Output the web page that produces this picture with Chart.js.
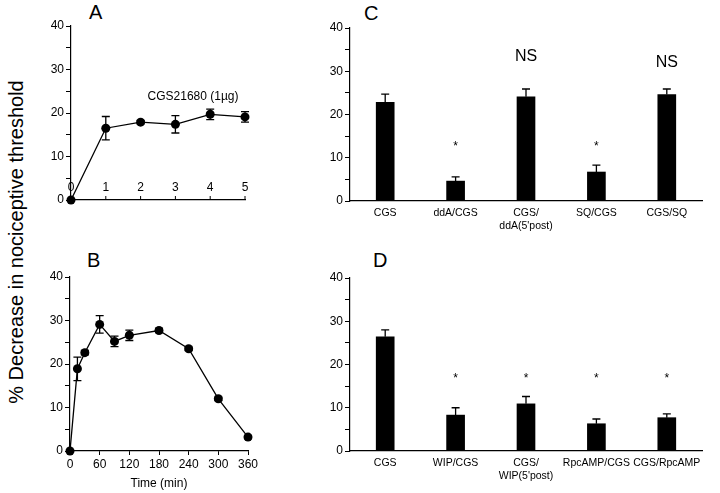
<!DOCTYPE html>
<html>
<head>
<meta charset="utf-8">
<script src="https://cdn.jsdelivr.net/npm/chart.js@4.4.0/dist/chart.umd.min.js"></script>
<style>
body { margin:0; width:720px; height:493px; background:#fff; overflow:hidden; position:relative; font-family:"Liberation Sans", Arial, sans-serif; color:#000; }
canvas.panel { position:absolute; }
.letter { position:absolute; font-size:20px; line-height:1; }
.ylabel { position:absolute; left:16px; top:242px; transform:translate(-50%,-50%) rotate(-90deg); font-size:20px; white-space:nowrap; }
</style>
</head>
<body>
<div class="ylabel">% Decrease in nociceptive threshold</div>
<div class="letter" style="left:89px;top:2px">A</div>
<div class="letter" style="left:87px;top:250px">B</div>
<div class="letter" style="left:364px;top:3px">C</div>
<div class="letter" style="left:373px;top:250px">D</div>
<canvas id="chartA" class="panel" style="left:35px;top:20px;width:220px;height:190px" width="220" height="190"></canvas>
<canvas id="chartB" class="panel" style="left:34px;top:271px;width:224px;height:220px" width="224" height="220"></canvas>
<canvas id="chartC" class="panel" style="left:314px;top:20px;width:392px;height:216px" width="392" height="216"></canvas>
<canvas id="chartD" class="panel" style="left:314px;top:270px;width:392px;height:216px" width="392" height="216"></canvas>
<script>
// panel A: time course after CGS21680 (1ug)
const timeA = [0, 1, 2, 3, 4, 5];
const valA = [0, 16.5, 17.9, 17.4, 19.7, 19.1];
const errA = [0, 2.7, 0.4, 2.0, 1.2, 1.2];

// panel B: time course, minutes
const timeB = [0, 15, 30, 60, 90, 120, 180, 240, 300, 360];
const valB = [0, 18.9, 22.6, 29.1, 25.2, 26.6, 27.7, 23.5, 12.0, 3.2];
const errB = [0, 2.7, 0.5, 2.0, 1.2, 1.2, 0.5, 0.4, 0.4, 0.4];

// panel C
const catC = ['CGS', 'ddA/CGS', ['CGS/', "ddA(5'post)"], 'SQ/CGS', 'CGS/SQ'];
const valC = [22.8, 4.6, 24.1, 6.7, 24.6];
const errC = [1.9, 1.0, 1.8, 1.6, 1.3];
const sigC = ['', '*', 'NS', '*', 'NS'];

// panel D
const catD = ['CGS', 'WIP/CGS', ['CGS/', "WIP(5'post)"], 'RpcAMP/CGS', 'CGS/RpcAMP'];
const valD = [26.4, 8.3, 10.9, 6.3, 7.7];
const errD = [1.6, 1.7, 1.7, 1.1, 0.9];
const sigD = ['', '*', '*', '*', '*'];

Chart.defaults.font.family = '"Liberation Sans", Arial, sans-serif';
Chart.defaults.font.size = 12;
Chart.defaults.color = '#000';
Chart.defaults.animation = false;

// error bars drawn from the arrays through the y scale
const errorBars = {
	id: 'errorBars',
	afterDatasetsDraw(chart, args, opts) {
		if (!opts.errors) return;
		const ctx = chart.ctx;
		const ys = chart.scales.y;
		const meta = chart.getDatasetMeta(0);
		const vals = opts.values;
		ctx.save();
		ctx.strokeStyle = '#000';
		ctx.lineWidth = 1.3;
		meta.data.forEach((el, i) => {
			const e = opts.errors[i];
			if (!e) return;
			const top = ys.getPixelForValue(vals[i] + e);
			const bot = opts.upperOnly ? el.y : ys.getPixelForValue(vals[i] - e);
			const w = opts.cap / 2;
			ctx.beginPath();
			ctx.moveTo(el.x, top); ctx.lineTo(el.x, bot);
			ctx.moveTo(el.x - w, top); ctx.lineTo(el.x + w, top);
			if (!opts.upperOnly) { ctx.moveTo(el.x - w, bot); ctx.lineTo(el.x + w, bot); }
			ctx.stroke();
		});
		ctx.restore();
	}
};

// text marks (asterisks, NS, series note) placed in data units
const marks = {
	id: 'marks',
	afterDatasetsDraw(chart, args, opts) {
		if (!opts.items) return;
		const ctx = chart.ctx;
		const xs = chart.scales.x, ys = chart.scales.y;
		const meta = chart.getDatasetMeta(0);
		ctx.save();
		ctx.fillStyle = '#000';
		ctx.textBaseline = 'middle';
		opts.items.forEach(m => {
			if (!m.text) return;
			ctx.font = m.size + 'px "Liberation Sans", Arial, sans-serif';
			ctx.textAlign = m.align || 'center';
			const x = m.index !== undefined ? meta.data[m.index].x : xs.getPixelForValue(m.x);
			ctx.fillText(m.text, x, ys.getPixelForValue(m.y));
		});
		ctx.restore();
	}
};

// panel A has its x ticks and labels inside the plot, above the axis line
const innerTicks = {
	id: 'innerTicks',
	afterDraw(chart, args, opts) {
		if (!opts.show) return;
		const ctx = chart.ctx;
		const xs = chart.scales.x;
		ctx.save();
		ctx.strokeStyle = '#000';
		ctx.lineWidth = 1;
		ctx.fillStyle = '#000';
		ctx.font = '12px "Liberation Sans", Arial, sans-serif';
		ctx.textAlign = 'center';
		ctx.textBaseline = 'middle';
		xs.ticks.forEach(t => {
			const px = xs.getPixelForValue(t.value);
			ctx.beginPath();
			ctx.moveTo(px, xs.top); ctx.lineTo(px, xs.top - 4);
			ctx.stroke();
			ctx.fillText(String(t.value), px, xs.top - 12);
		});
		ctx.restore();
	}
};
Chart.register(errorBars, marks, innerTicks);

function yAxis() {
	return {
		min: 0, max: 40,
		ticks: { stepSize: 5, autoSkip: false, padding: 2, font: { size: 12 }, callback: v => v % 10 === 0 ? v : '' },
		grid: { drawOnChartArea: false, tickLength: 5, color: '#000', lineWidth: 1 },
		border: { color: '#000', width: 1.2 },
		afterFit: s => { s.width = 36; s.paddingTop = 0; s.paddingBottom = 0; }
	};
}

function lineDataset(xs, ys) {
	return {
		data: xs.map((x, i) => ({ x: x, y: ys[i] })),
		borderColor: '#000',
		borderWidth: 1.3,
		pointRadius: 4.5,
		pointBackgroundColor: '#000',
		pointBorderWidth: 0,
		tension: 0,
		clip: false
	};
}

new Chart(document.getElementById('chartA'), {
	type: 'line',
	data: { datasets: [lineDataset(timeA, valA)] },
	options: {
		responsive: false,
		layout: { padding: { left: 0, top: 6, right: 10, bottom: 0 } },
		scales: {
			x: {
				type: 'linear', min: 0, max: 5,
				ticks: { stepSize: 1, display: false },
				grid: { drawOnChartArea: false, drawTicks: false },
				border: { color: '#000', width: 1.2 },
				afterFit: s => { s.height = 10; s.paddingLeft = 0; s.paddingRight = 0; }
			},
			y: yAxis()
		},
		plugins: {
			legend: { display: false }, tooltip: { enabled: false },
			errorBars: { values: valA, errors: errA, cap: 8 },
			innerTicks: { show: true },
			marks: { items: [{ text: 'CGS21680 (1\u00b5g)', x: 2.2, y: 23.7, size: 12, align: 'left' }] }
		}
	}
});

new Chart(document.getElementById('chartB'), {
	type: 'line',
	data: { datasets: [lineDataset(timeB, valB)] },
	options: {
		responsive: false,
		layout: { padding: { left: 0, top: 6, right: 10, bottom: 0 } },
		scales: {
			x: {
				type: 'linear', min: 0, max: 360,
				ticks: { stepSize: 60, padding: 2, font: { size: 12 } },
				grid: { drawOnChartArea: false, tickLength: 4, color: '#000' },
				border: { color: '#000', width: 1.2 },
				title: { display: true, text: 'Time (min)', font: { size: 12 }, padding: 0 },
				afterFit: s => { s.height = 40; s.paddingLeft = 0; s.paddingRight = 0; }
			},
			y: yAxis()
		},
		plugins: {
			legend: { display: false }, tooltip: { enabled: false },
			errorBars: { values: valB, errors: errB, cap: 8 }
		}
	}
});

function barChart(id, cats, vals, errs, sigs, sigY) {
	new Chart(document.getElementById(id), {
		type: 'bar',
		data: { labels: cats, datasets: [{ data: vals, backgroundColor: '#000', barThickness: 18 }] },
		options: {
			responsive: false,
			layout: { padding: { left: 0, top: 8, right: 4, bottom: 0 } },
			scales: {
				x: {
					ticks: { padding: 6, font: { size: 10.5 }, autoSkip: false, maxRotation: 0, minRotation: 0 },
					grid: { drawOnChartArea: false, drawTicks: false },
					border: { color: '#000', width: 1.2 },
					afterFit: s => { s.height = 35; s.paddingLeft = 0; s.paddingRight = 0; }
				},
				y: yAxis()
			},
			plugins: {
				legend: { display: false }, tooltip: { enabled: false },
				errorBars: { values: vals, errors: errs, cap: 8, upperOnly: true },
				marks: { items: sigs.map((t, i) => ({ text: t, index: i, y: sigY[i], size: t === 'NS' ? 16 : 12 })) }
			}
		}
	});
}

barChart('chartC', catC, valC, errC, sigC, [0, 12.6, 33.4, 12.6, 31.9]);
barChart('chartD', catD, valD, errD, sigD, [0, 16.8, 16.8, 16.8, 16.8]);
</script>
</body>
</html>
